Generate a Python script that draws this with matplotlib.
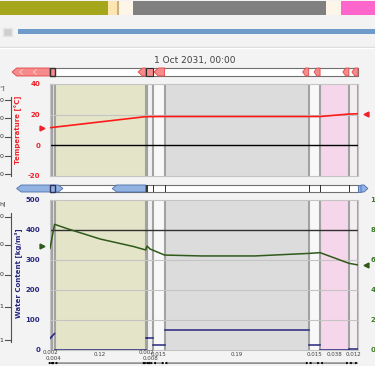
import numpy as np
import matplotlib
matplotlib.use('Agg')
import matplotlib.pyplot as plt
import matplotlib.transforms as mtransforms
from matplotlib.patches import Polygon, Rectangle

W, H = 375, 366

# construction: layer thicknesses [m], outside (left) to inside (right)
thickness = [0.002, 0.004, 0.12, 0.002, 0.008, 0.015, 0.19, 0.015, 0.038, 0.012]
thick_labels = ['0.002', '0.004', '0.12', '0.002', '0.008', '0.015', '0.19', '0.015', '0.038', '0.012']
layer_fill = ['#ececdc', '#e6e6cc', '#e4e4c9', '#f1f1f1', '#f1f1f1', '#f8f8f8',
              '#dcdcdc', '#f8f8f8', '#f6d6ea', '#f4eef2']
layer_strong = ['#a6a61c', '#a6a61c', '#a6a61c', '#fde6b0', '#fde6b0', '#fdf6e8',
                '#808080', '#fdf6e8', '#ff66cc', '#f8eef6']

# temperature profile [°C]
temp_x = [0.0, 0.126, 0.151, 0.341, 0.356, 0.394, 0.406]
temp_y = [11.5, 18.7, 18.8, 18.8, 18.8, 20.4, 20.6]
temp_ambient = [11.5, 20.5]

# relative humidity profile [%]
rh_x = [0.0, 0.006, 0.022, 0.066, 0.11, 0.126, 0.128, 0.132, 0.151, 0.2, 0.27,
        0.341, 0.356, 0.394, 0.406]
rh_y = [67.8, 83.8, 81.0, 74.0, 69.0, 66.7, 69.3, 67.3, 63.3, 62.7, 62.7,
        64.4, 64.9, 57.8, 56.7]
rh_ambient = [69.3, 56.7]

# water content per layer [kg/m³], value at left / right edge of each layer
wc_left = [38, 44, 0.5, 40, 40, 17, 67, 17, 1, 5]
wc_right = [44, 55, 0.5, 40, 40, 17, 67, 17, 1, 5]

temp_ticks = [-20, 0, 20, 40]
wc_ticks = [0, 100, 200, 300, 400, 500]
rh_ticks = [0, 20, 40, 60, 80, 100]

edges = np.concatenate([[0.0], np.cumsum(thickness)])
total = edges[-1]

RED = '#f02028'
NAVY = '#26267e'
GREEN = '#2f5a1a'

fig = plt.figure(figsize=(W / 100, H / 100), dpi=100, facecolor='#f3f3f3')


def px_axes(x0, y0, x1, y1):
    return fig.add_axes([x0 / W, 1 - y1 / H, (x1 - x0) / W, (y1 - y0) / H])


# decoration layer in pixel coordinates
bg = fig.add_axes([0, 0, 1, 1])
bg.set_xlim(0, W)
bg.set_ylim(H, 0)
bg.axis('off')
bg.add_patch(Rectangle((3, 28), 9, 8, fc='#cfcfcf', ec='#e6e6e6', lw=1))
bg.add_patch(Rectangle((18, 29), 357, 5, fc='#6f9bca', lw=0))
bg.axhline(46.5, color='#d6d6d6', lw=1)
bg.axhline(48, color='white', lw=1)
bg.text(195, 60, '1 Oct 2031, 00:00', ha='center', va='center', fontsize=6.5,
        color='#404040')

# cut-off scales of the neighbouring panel
for top, bot, ticks, labs, head in [(97, 176, [100, 118, 137, 156, 174], ['0'] * 5, '°]'),
                                    (213, 342, [217, 245, 275, 307, 340],
                                     ['0', '0', '0', '1', '1'], 'h]')]:
    bg.plot([11, 11], [top, bot], color='#505050', lw=0.8)
    for t, lab in zip(ticks, labs):
        bg.plot([5, 11], [t, t], color='#505050', lw=0.8)
        bg.text(3.5, t, lab, ha='right', va='center', fontsize=4.5, color='#303030')
    bg.text(-1, top - 9, head, ha='left', va='center', fontsize=4.5, color='#303030')

fig.text(18 / W, 1 - 130 / H, 'Temperature [°C]', rotation=90, ha='center',
         va='center', fontsize=5, fontweight='bold', color=RED)
fig.text(18 / W, 1 - 273 / H, 'Water Content [kg/m³]', rotation=90, ha='center',
         va='center', fontsize=5, fontweight='bold', color=NAVY)

# construction colour bar at the very top
top_ax = px_axes(0, 1, 375, 15)
top_ax.set_xlim(0.0197, 0.389)
top_ax.set_ylim(0, 1)
top_ax.axis('off')
for i in range(len(thickness)):
    top_ax.axvspan(edges[i], edges[i + 1], color=layer_strong[i], lw=0)
top_ax.axvline(edges[5], color='#c8b080', lw=1.5)


def strip(y0, y1):
    ax = px_axes(50, y0, 358, y1)
    ax.set_xlim(0, total)
    ax.set_ylim(0, 1)
    ax.axis('off')
    ax.add_patch(Rectangle((0, 0), total, 1, fc='white', ec='#707070', lw=0.8,
                           clip_on=False))
    return ax


def tag(ax, x0, x1, fc, ec, left=True, right=False, tip=0.006):
    pts = [(x0, 0.5), (x0 + tip, 1)] if left else [(x0, 0), (x0, 1)]
    pts += [(x1 - tip, 1), (x1, 0.5), (x1 - tip, 0)] if right else [(x1, 1), (x1, 0)]
    if left:
        pts.append((x0 + tip, 0))
    ax.add_patch(Polygon(pts, closed=True, fc=fc, ec=ec, lw=0.6, clip_on=False))


# heat source / boundary strip (red)
rs = strip(68, 76)
rfc, rec = '#f78a8a', '#e04848'
tag(rs, -0.050, edges[0], rfc, rec)
for cx in [-0.04, -0.022]:
    rs.plot([cx + 0.004, cx, cx + 0.004], [0.8, 0.5, 0.2], color='#ffd0d0', lw=0.6,
            clip_on=False)
rs.add_patch(Rectangle((edges[0], 0), edges[2] - edges[0], 1, fc=rfc, ec='#303030',
                       lw=1, clip_on=False))
tag(rs, edges[3] - 0.010, edges[3], rfc, rec)
rs.add_patch(Rectangle((edges[3], 0), edges[5] - edges[3], 1, fc=rfc, ec='#303030',
                       lw=0.8, clip_on=False))
tag(rs, edges[5] + 0.001, edges[6], rfc, rec)
for e in edges[7:]:
    tag(rs, e - 0.008, e, rfc, rec, tip=0.004)

# moisture source / boundary strip (blue)
bs = strip(185, 192)
bfc, bec = '#92b2e2', '#4a70b0'
tag(bs, -0.044, edges[2] + 0.011, bfc, bec, right=True)
bs.add_patch(Rectangle((edges[0], 0), edges[2] - edges[0], 1, fc=bfc, ec='#303060',
                       lw=1, clip_on=False))
tag(bs, 0.082, edges[3], bfc, bec)
for e in edges[3:-1]:
    bs.plot([e, e], [0, 1], color='#303030', lw=0.7)
bs.add_patch(Rectangle((total, 0.05), 0.004, 0.9, fc=bfc, ec=bec, lw=0.6, clip_on=False))
tag(bs, total + 0.004, total + 0.013, bfc, bec, left=False, right=True, tip=0.005)


def draw_layers(ax):
    for i in range(len(thickness)):
        ax.axvspan(edges[i], edges[i + 1], color=layer_fill[i], lw=0, zorder=0)
    for e in edges:
        ax.axvline(e, color='#a2a2a2', lw=1.5, zorder=1)
    ax.set_xlim(0, total)
    ax.set_xticks([])
    for sp in ax.spines.values():
        sp.set_color('#c4c4c4')
        sp.set_linewidth(0.8)


# temperature panel
ax1 = px_axes(50, 84, 358, 176)
draw_layers(ax1)
ax1.set_ylim(-20, 40)
ax1.axhline(20, color='#c4c4c4', lw=0.8, zorder=1)
ax1.axhline(0, color='black', lw=1, zorder=2)
ax1.plot(temp_x, temp_y, color='#ff1a1a', lw=1.2, zorder=3)
ax1.plot(-0.011, temp_ambient[0], marker='>', ms=3.5, color=RED, clip_on=False)
ax1.plot(total + 0.011, temp_ambient[1], marker='<', ms=3.5, color=RED, clip_on=False)
ax1.set_yticks(temp_ticks)
ax1.set_yticklabels([str(t) for t in temp_ticks], fontweight='bold', color=RED)
ax1.tick_params(length=0, labelsize=5, pad=7)

# water content / relative humidity panel
ax2 = px_axes(50, 200, 358, 350)
draw_layers(ax2)
ax2.set_ylim(0, 500)
for g in [100, 200, 300]:
    ax2.axhline(g, color='#c4c4c4', lw=0.8, zorder=1)
ax2.axhline(400, color='#303030', lw=1, zorder=2)
for i in range(len(thickness)):
    ax2.plot([edges[i], edges[i + 1]], [wc_left[i], wc_right[i]], color=NAVY, lw=1.1,
             zorder=3)
ax2.set_yticks(wc_ticks)
ax2.set_yticklabels([str(t) for t in wc_ticks], fontweight='bold', color=NAVY)
ax2.tick_params(length=0, labelsize=5, pad=7)

rax = ax2.twinx()
rax.set_ylim(0, 100)
rax.plot(rh_x, rh_y, color=GREEN, lw=1.1, zorder=4)
rax.plot(-0.011, rh_ambient[0], marker='>', ms=3.5, color=GREEN, clip_on=False)
rax.plot(total + 0.011, rh_ambient[1], marker='<', ms=3.5, color=GREEN, clip_on=False)
rax.set_yticks(rh_ticks)
rax.set_yticklabels([str(t) for t in rh_ticks], fontweight='bold', color='#3c7a2a')
rax.tick_params(length=0, labelsize=5, pad=9)
for sp in rax.spines.values():
    sp.set_visible(False)

# layer dimensions below the panel
trans = mtransforms.blended_transform_factory(ax2.transData, ax2.transAxes)
row = 0
for i, t in enumerate(thickness):
    cx = (edges[i] + edges[i + 1]) / 2
    if t < 0.01:
        y = -0.015 if row % 2 == 0 else -0.055
        row += 1
    else:
        y = -0.03
    ax2.text(cx, y, thick_labels[i], transform=trans, ha='center', va='center',
             fontsize=4, color='#404040', clip_on=False)
    ax2.annotate('', xy=(edges[i], -0.087), xytext=(edges[i + 1], -0.087),
                 xycoords=trans, textcoords=trans, annotation_clip=False,
                 arrowprops=dict(arrowstyle='<|-|>', lw=0.5, mutation_scale=3,
                                 color='black', shrinkA=0, shrinkB=0))

fig.savefig('out.png', dpi=100, facecolor=fig.get_facecolor())
